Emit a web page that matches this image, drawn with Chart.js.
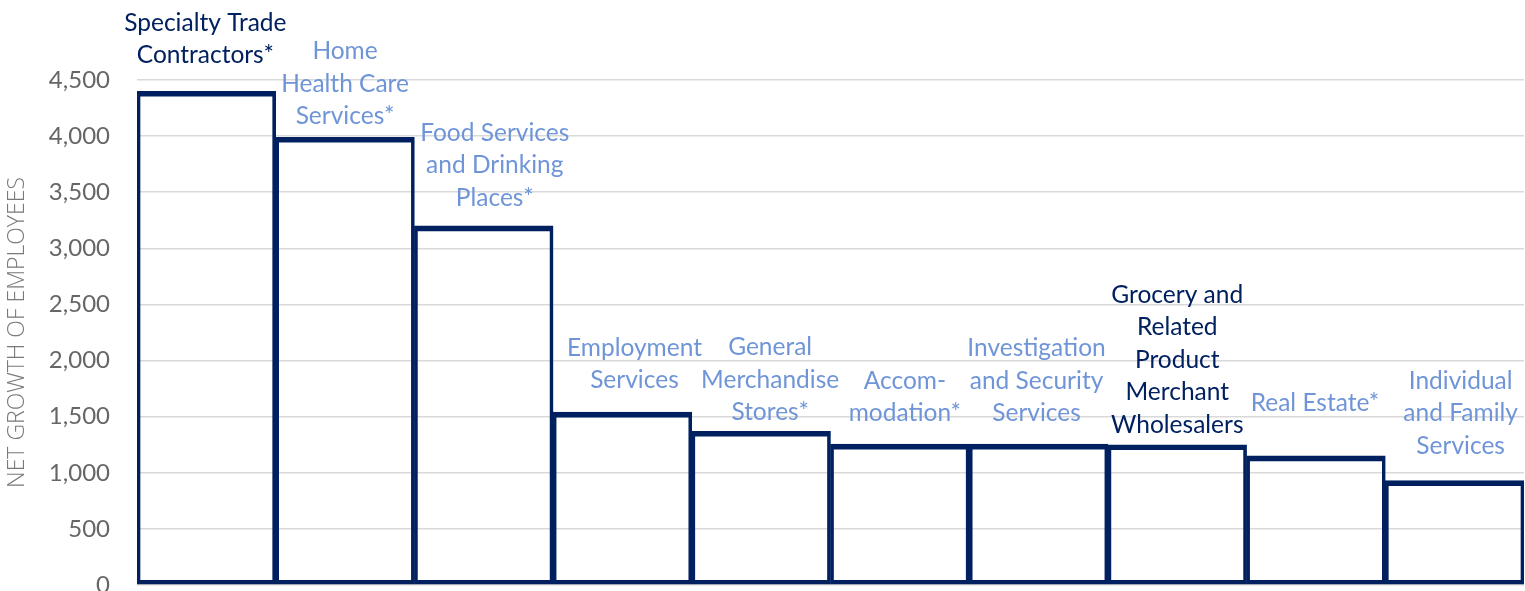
<!DOCTYPE html>
<html>
<head>
<meta charset="utf-8">
<script src="https://cdn.jsdelivr.net/npm/chart.js@4"></script>
<style>
  html, body { margin: 0; padding: 0; background: #ffffff; overflow: hidden; }
  #wrap { width: 1525px; height: 591px; position: relative; }
</style>
</head>
<body>
<div id="wrap"><canvas id="c"></canvas></div>
<script>
// ---- data ----
const categories = [
  ["Specialty Trade", "Contractors*"],
  ["Home", "Health Care", "Services*"],
  ["Food Services", "and Drinking", "Places*"],
  ["Employment", "Services"],
  ["General", "Merchandise", "Stores*"],
  ["Accom-", "modation*"],
  ["Investigation", "and Security", "Services"],
  ["Grocery and", "Related", "Product", "Merchant", "Wholesalers"],
  ["Real Estate*"],
  ["Individual", "and Family", "Services"]
];
const netGrowth = [4400, 3990, 3200, 1540, 1370, 1255, 1255, 1250, 1150, 930];
const highlighted = [true, false, false, false, false, false, false, true, false, false];
const yTicks = [0, 500, 1000, 1500, 2000, 2500, 3000, 3500, 4000, 4500];
const yAxisTitle = "NET GROWTH OF EMPLOYEES";

// ---- styles ----
const NAVY = "#002060";
const LIGHT = "#6F95D8";
const labelDx = [-1, 0, 11, 12, 9, 5, -2, 0, -1, 6];
const labelGap = [36, 21, 28, 32, 19, 31, 31, 20, 53, 35];
const LABEL_FONT = "24.5px Lato";
const LABEL_LINE = 32.5;

const labelPlugin = {
  id: "barLabels",
  afterDatasetsDraw(chart) {
    const ctx = chart.ctx;
    const meta = chart.getDatasetMeta(0);
    ctx.save();
    ctx.font = LABEL_FONT;
    ctx.textAlign = "center";
    ctx.textBaseline = "middle";
    meta.data.forEach((bar, i) => {
      const lines = categories[i];
      const x = bar.x + labelDx[i];
      const lastY = bar.y - labelGap[i];
      ctx.fillStyle = highlighted[i] ? NAVY : LIGHT;
      lines.forEach((ln, k) => {
        const y = lastY - (lines.length - 1 - k) * LABEL_LINE;
        ctx.fillText(ln, x, y);
      });
    });
    ctx.restore();
  }
};

new Chart(document.getElementById("c"), {
  type: "bar",
  data: {
    labels: categories.map(c => c.join(" ")),
    datasets: [{
      data: netGrowth,
      backgroundColor: "rgba(0,0,0,0)",
      borderColor: NAVY,
      borderWidth: { top: 5, left: 3, right: 3, bottom: 4 },
      borderSkipped: false,
      barPercentage: 1,
      categoryPercentage: 1
    }]
  },
  options: {
    responsive: true,
    maintainAspectRatio: false,
    animation: false,
    layout: { padding: { top: 80, bottom: 6, left: 0, right: 1 } },
    plugins: { legend: { display: false }, tooltip: { enabled: false } },
    scales: {
      x: { display: false },
      y: {
        min: 0,
        max: 4500,
        afterBuildTicks(scale) { scale.ticks = yTicks.map(v => ({ value: v })); },
        afterFit(scale) {
          scale.width = 137;
          scale.paddingTop = 0;
          scale.paddingBottom = 0;
        },
        border: { display: false },
        grid: { color: "#D9D9D9", lineWidth: 1.5, drawTicks: false },
        ticks: {
          padding: 27,
          color: "#666666",
          font: { family: "Lato", size: 24 },
          callback: v => v.toLocaleString("en-US")
        },
        title: {
          display: true,
          text: yAxisTitle,
          color: "#7a7a7a",
          font: { family: "'Open Sans'", size: 23, weight: 300 },
          padding: { top: 4, bottom: 0 }
        }
      }
    }
  },
  plugins: [labelPlugin]
});
</script>
</body>
</html>
